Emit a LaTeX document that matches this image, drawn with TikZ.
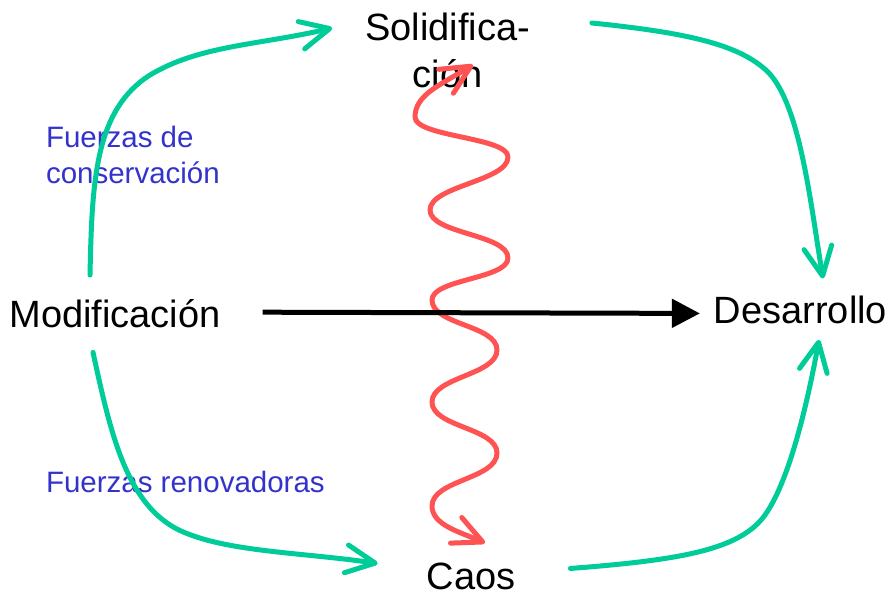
\documentclass[tikz,border=0pt]{standalone}
\usepackage{fontspec}
\setmainfont{Liberation Sans}
\usetikzlibrary{arrows.meta,calc}
\definecolor{cgreen}{RGB}{0,204,153}
\definecolor{cred}{RGB}{255,82,82}
\definecolor{cblue}{RGB}{51,51,204}
\tikzset{
  big/.style={inner sep=0pt, outer sep=0pt, align=center, font=\fontsize{38}{47}\selectfont},
  lab/.style={inner sep=0pt, outer sep=0pt, text=cblue, font=\fontsize{29.5}{36}\selectfont},
  garrow/.style={draw=cgreen, line width=5pt, line cap=round, line join=round,
    -{Straight Barb[round,length=29pt,width=28pt]}},
  warrow/.style={draw=cred, line width=5pt, line cap=round, line join=round,
    {Straight Barb[round,length=29pt,width=28pt]}-{Straight Barb[round,length=29pt,width=28pt]}},
  karrow/.style={draw=black, line width=5pt, -{Triangle[length=28pt,width=28pt]}},
}
\begin{document}
\begin{tikzpicture}[x=1pt,y=-1pt]
\useasboundingbox (0,0) rectangle (891,596);
% nodes
\node[big, anchor=base] (mod) at (115,327) {Modificación};
\node[big, anchor=north] (sol) at (447.5,12.5) {Solidifica-\\ción};
\node[big, anchor=base] (des) at (800.5,323) {Desarrollo};
\node[big, anchor=base] (caos) at (471,589) {Caos};
\node[lab, anchor=north west, align=left] (lc) at (46,126) {Fuerzas de\\conservación};
\node[lab, anchor=base west] (lr) at (46,492) {Fuerzas renovadoras};
% red wave between Solidificacion and Caos
\draw[warrow] ($(sol.south)+(25.5,-22.5)$)
  .. controls (440,85) and (415,95) .. (415,117)
  .. controls +(0,20) and +(0,-20) .. (508,157)
  .. controls +(0,24) and +(0,-24) .. (430,210)
  .. controls +(0,24) and +(0,-24) .. (508,258)
  .. controls +(0,21) and +(0,-21) .. (432,300)
  .. controls +(0,25) and +(0,-25) .. (497,350)
  .. controls +(0,25) and +(0,-25) .. (432,402)
  .. controls +(0,25) and +(0,-25) .. (497,453)
  .. controls +(0,26) and +(0,-26) .. (432,506)
  .. controls (432,525) and (460,532) .. ($(caos.north)+(14,-19.5)$);
% black arrow
\draw[karrow] ($(mod.east)+(42,-1)$) -- ($(des.west)+(-14,4)$);
% green arrows
\draw[garrow] ($(mod.north)+(-25,-24)$)
  .. controls (92,180) and (95,110) .. (150,75)
  .. controls (200,45) and (260,45) .. ($(sol.north west)+(-33,15.5)$);
\draw[garrow] ($(sol.north east)+(62,10.5)$)
  .. controls (690,33) and (740,45) .. (768,72)
  .. controls (800,105) and (810,200) .. ($(des.north)+(22.5,-17)$);
\draw[garrow] ($(caos.north east)+(55,6)$)
  .. controls (680,560) and (740,550) .. (765,515)
  .. controls (790,480) and (808,400) .. ($(des.south)+(18.5,16.5)$);
\draw[garrow] ($(mod.south)+(-22,25)$)
  .. controls (110,430) and (125,500) .. (175,528)
  .. controls (220,552) and (300,552) .. ($(caos.north west)+(-49,1)$);
\end{tikzpicture}
\end{document}
